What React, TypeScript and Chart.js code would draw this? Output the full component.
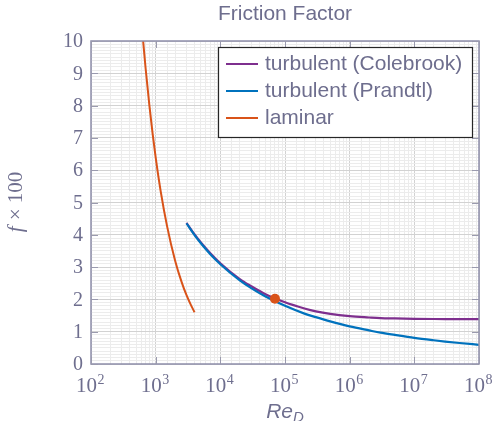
import React, { useEffect, useRef } from "react";
import { Chart, registerables } from "chart.js";

Chart.register(...registerables);

// ---- data ----
const laminarRe = [640, 700, 800, 900, 1000, 1200, 1500, 2000, 2500, 3000, 3500, 4000];
const laminarF = [10, 9.14, 8.0, 7.11, 6.4, 5.33, 4.27, 3.2, 2.56, 2.13, 1.83, 1.6];

const turbRe = [3000, 4000, 5000, 7000, 1e4, 2e4, 3e4, 5e4, 1e5, 2e5, 3e5, 5e5, 1e6, 2e6, 3e6, 5e6, 1e7, 2e7, 3e7, 5e7, 1e8];
const prandtlF = [4.35, 3.99, 3.74, 3.4, 3.09, 2.59, 2.35, 2.09, 1.8, 1.56, 1.45, 1.32, 1.165, 1.04, 0.97, 0.9, 0.81, 0.735, 0.695, 0.65, 0.594];
const colebrookF = [4.37, 4.01, 3.76, 3.43, 3.12, 2.63, 2.41, 2.16, 1.91, 1.72, 1.63, 1.55, 1.48, 1.44, 1.42, 1.41, 1.4, 1.393, 1.391, 1.39, 1.389];

const markerRe = [70000];
const markerF = [2.02];

const xTickExps = [2, 3, 4, 5, 6, 7, 8];
const yTickValues = [0, 1, 2, 3, 4, 5, 6, 7, 8, 9, 10];

const seriesLabels = ["turbulent (Colebrook)", "turbulent (Prandtl)", "laminar"];
const titleText = "Friction Factor";

const TXT = "#6e6e8e";
const AXC = "#8e8eaa";
const SERIF = "'Liberation Serif', 'DejaVu Serif', serif";
const SANS = "'Liberation Sans', Arial, sans-serif";

const toXY = (xs: number[], ys: number[]) => xs.map((x, i) => ({ x, y: ys[i] }));

const isInt = (v: number) => Math.abs(v - Math.round(v)) < 1e-6;
const isDecade = (v: number) => isInt(Math.log10(v));

const decorPlugin = {
  id: "decor",
  afterDraw(chart: any) {
    const { ctx, chartArea } = chart;
    const { left, right, top, bottom } = chartArea;
    const xs = chart.scales.x;
    const ys = chart.scales.y;
    ctx.save();

    // frame
    ctx.strokeStyle = AXC;
    ctx.lineWidth = 1.5;
    ctx.strokeRect(left, top, right - left, bottom - top);

    // tick marks
    ctx.lineWidth = 1;
    ctx.strokeStyle = "#9a9aae";
    const seg = (x1: number, y1: number, x2: number, y2: number) => {
      ctx.beginPath();
      ctx.moveTo(x1, y1);
      ctx.lineTo(x2, y2);
      ctx.stroke();
    };
    yTickValues.forEach((v) => {
      const py = Math.round(ys.getPixelForValue(v)) + 0.5;
      seg(left, py, left + 7, py);
      seg(right - 7, py, right, py);
    });
    xTickExps.forEach((e) => {
      const px = Math.round(xs.getPixelForValue(Math.pow(10, e))) + 0.5;
      seg(px, bottom, px, bottom - 7);
      seg(px, top, px, top + 7);
    });

    // y tick labels
    ctx.fillStyle = TXT;
    ctx.font = `20px ${SERIF}`;
    ctx.textAlign = "right";
    ctx.textBaseline = "middle";
    yTickValues.forEach((v) => {
      ctx.fillText(String(v), left - 8, ys.getPixelForValue(v) + 1);
    });

    // x tick labels 10^n
    ctx.textBaseline = "alphabetic";
    ctx.textAlign = "left";
    xTickExps.forEach((e) => {
      const px = xs.getPixelForValue(Math.pow(10, e));
      ctx.font = `21px ${SERIF}`;
      const wb = ctx.measureText("10").width;
      ctx.font = `14px ${SERIF}`;
      const we = ctx.measureText(String(e)).width;
      const start = px - (wb + we) / 2 - 1;
      ctx.font = `21px ${SERIF}`;
      ctx.fillText("10", start, bottom + 28);
      ctx.font = `14px ${SERIF}`;
      ctx.fillText(String(e), start + wb + 0.5, bottom + 20);
    });

    // x axis title Re_D
    ctx.font = `italic 21px ${SANS}`;
    const wRe = ctx.measureText("Re").width;
    ctx.font = `italic 15px ${SANS}`;
    const wD = ctx.measureText("D").width;
    const cx = (left + right) / 2;
    const sx = cx - (wRe + wD) / 2;
    ctx.font = `italic 21px ${SANS}`;
    ctx.fillText("Re", sx, bottom + 54);
    ctx.font = `italic 15px ${SANS}`;
    ctx.fillText("D", sx + wRe, bottom + 58);

    // y axis title f x 100
    ctx.save();
    ctx.translate(22, (top + bottom) / 2);
    ctx.rotate(-Math.PI / 2);
    ctx.font = `italic 21px ${SERIF}`;
    const wf = ctx.measureText("f").width;
    ctx.font = `21px ${SERIF}`;
    const wr = ctx.measureText(" × 100").width;
    const st = -(wf + wr) / 2;
    ctx.font = `italic 21px ${SERIF}`;
    ctx.fillText("f", st, 0);
    ctx.font = `21px ${SERIF}`;
    ctx.fillText(" × 100", st + wf + 1, 0);
    ctx.restore();

    // title
    ctx.font = `21px ${SANS}`;
    ctx.textAlign = "center";
    ctx.textBaseline = "middle";
    ctx.fillText(titleText, cx, 14);

    // legend
    const lx = right - 261;
    const ly = top + 6;
    const lw = 254;
    const lh = 90;
    ctx.fillStyle = "#ffffff";
    ctx.fillRect(lx, ly, lw, lh);
    ctx.strokeStyle = "#262626";
    ctx.lineWidth = 1.2;
    ctx.strokeRect(lx + 0.5, ly + 0.5, lw, lh);
    const ds = chart.data.datasets;
    ctx.font = `21px ${SANS}`;
    ctx.textAlign = "left";
    ctx.textBaseline = "middle";
    for (let i = 0; i < 3; i++) {
      const ry = ly + 17 + i * 27;
      ctx.strokeStyle = ds[i].borderColor;
      ctx.lineWidth = 2;
      seg(lx + 8, ry, lx + 40, ry);
      ctx.fillStyle = TXT;
      ctx.fillText(ds[i].label, lx + 47, ry);
    }

    ctx.restore();
  },
};

export default function App() {
  const ref = useRef<HTMLCanvasElement | null>(null);
  useEffect(() => {
    if (!ref.current) return;
    const chart = new Chart(ref.current, {
      type: "line",
      data: {
        datasets: [
          {
            label: seriesLabels[0],
            data: toXY(turbRe, colebrookF),
            borderColor: "#7E2F8E",
            borderWidth: 2.2,
            pointRadius: 0,
            cubicInterpolationMode: "monotone",
            order: 3,
          },
          {
            label: seriesLabels[1],
            data: toXY(turbRe, prandtlF),
            borderColor: "#0072BD",
            borderWidth: 2.2,
            pointRadius: 0,
            cubicInterpolationMode: "monotone",
            order: 2,
          },
          {
            label: seriesLabels[2],
            data: toXY(laminarRe, laminarF),
            borderColor: "#D95319",
            borderWidth: 2,
            pointRadius: 0,
            cubicInterpolationMode: "monotone",
            order: 1,
          },
          {
            label: "point",
            data: toXY(markerRe, markerF),
            borderColor: "#D95319",
            backgroundColor: "#D95319",
            showLine: false,
            pointRadius: 5,
            pointBorderWidth: 0,
            order: 0,
          },
        ],
      } as any,
      options: {
        animation: false,
        responsive: false,
        maintainAspectRatio: false,
        events: [],
        layout: { padding: { top: 41, right: 23, left: 0, bottom: 0 } },
        plugins: {
          legend: { display: false },
          title: { display: false },
          tooltip: { enabled: false },
        },
        scales: {
          x: {
            type: "logarithmic",
            min: 100,
            max: 1e8,
            border: { display: false },
            ticks: { display: false, autoSkip: false },
            grid: {
              drawTicks: false,
              lineWidth: 1,
              color: (c: any) => (c.tick && isDecade(c.tick.value) ? "#d2d2d2" : "#ececec"),
            },
            afterFit: (s: any) => {
              s.height = 57;
            },
          },
          y: {
            type: "linear",
            min: 0,
            max: 10,
            border: { display: false },
            ticks: { display: false, stepSize: 0.1, autoSkip: false, maxTicksLimit: 200 },
            grid: {
              drawTicks: false,
              lineWidth: 1,
              color: (c: any) => (c.tick && isInt(c.tick.value) ? "#d2d2d2" : "#ececec"),
            },
            afterFit: (s: any) => {
              s.width = 91;
            },
          },
        },
      } as any,
      plugins: [decorPlugin],
    });
    return () => chart.destroy();
  }, []);
  return (
    <div style={{ position: "absolute", left: 0, top: 0, width: 502, height: 421, background: "#fff" }}>
      <canvas ref={ref} width={502} height={421} />
    </div>
  );
}
